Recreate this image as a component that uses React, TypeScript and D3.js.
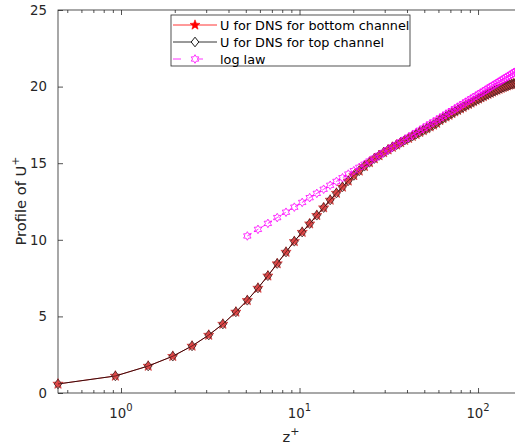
import React, { useRef, useEffect } from 'react';
import * as d3 from 'd3';

// wall-normal positions (z+) of the DNS grid
const zPlus = [
  0.4436, 0.93, 1.42, 1.95, 2.5, 3.1, 3.72, 4.4, 5.1, 5.85, 6.65, 7.5, 8.4, 9.35, 10.35,
  11.4, 12.5, 13.65, 14.85, 16.1, 17.4, 18.75, 20.15, 21.6, 23.1, 24.65, 26.25, 27.9,
  29.6, 31.35, 33.15, 35.0, 36.9, 38.85, 40.85, 42.9, 45.0, 47.15, 49.35, 51.6, 53.9,
  56.25, 58.65, 61.1, 63.6, 66.15, 68.75, 71.4, 74.1, 76.85, 79.65, 82.5, 85.4, 88.35,
  91.35, 94.4, 97.5, 100.65, 103.85, 107.1, 110.4, 113.75, 117.15, 120.6, 124.1, 127.65,
  131.25, 134.9, 138.6, 142.35, 146.15, 150.0, 153.9, 157.85, 161.85, 165.9, 170.0,
  174.15, 180.0,
];

// U+ for the bottom channel
const uBottom = [
  0.59, 1.11, 1.76, 2.4, 3.07, 3.78, 4.5, 5.29, 6.05, 6.85, 7.65, 8.45, 9.2, 9.9, 10.5,
  11.05, 11.6, 12.1, 12.6, 13.05, 13.45, 13.85, 14.2, 14.5, 14.8, 15.05, 15.3, 15.5,
  15.7, 15.88, 16.05, 16.2, 16.35, 16.5, 16.63, 16.76, 16.89, 17.02, 17.14, 17.26, 17.38,
  17.5, 17.62, 17.8, 17.92, 18.03, 18.14, 18.25, 18.36, 18.46, 18.56, 18.66, 18.76, 18.85,
  18.94, 19.03, 19.12, 19.2, 19.28, 19.36, 19.44, 19.51, 19.58, 19.65, 19.72, 19.78,
  19.84, 19.9, 19.96, 20.01, 20.06, 20.11, 20.15, 20.19, 20.23, 20.27, 20.3,
  20.33, 20.36,
];

// U+ for the top channel (same curve within line width)
const uTop = uBottom;

// log law, evaluated from z+ ~ 5 on
const zLog = zPlus.slice(8);
const uLog = [
  10.25, 10.68, 11.07, 11.45, 11.8, 12.13, 12.44, 12.75, 13.03, 13.3, 13.56, 13.81, 14.05,
  14.29, 14.51, 14.73, 14.93, 15.14, 15.33, 15.52, 15.7, 15.88, 16.05, 16.22, 16.39,
  16.55, 16.7, 16.85, 17.0, 17.15, 17.29, 17.43, 17.56, 17.69, 17.82, 17.95, 18.07, 18.2,
  18.32, 18.43, 18.55, 18.66, 18.77, 18.88, 18.99, 19.09, 19.2, 19.3, 19.4, 19.5, 19.59,
  19.69, 19.78, 19.88, 19.97, 20.06, 20.14, 20.23, 20.32, 20.4, 20.49, 20.57, 20.65,
  20.73, 20.81, 20.89, 20.97, 21.04, 21.12, 21.2, 21.3,
];

const yTicks = [0, 5, 10, 15, 20, 25];
const xMajor = [1, 10, 100];
const xMinor = [0.5, 0.6, 0.7, 0.8, 0.9, 2, 3, 4, 5, 6, 7, 8, 9, 20, 30, 40, 50, 60, 70, 80, 90];
const legendLabels = ['U for DNS for bottom channel', 'U for DNS for top channel', 'log law'];

const AX = '#262626';
const FONT = 'DejaVu Sans, sans-serif';

const starPath = (r: number) => {
  const pts: string[] = [];
  for (let i = 0; i < 10; i++) {
    const rr = i % 2 === 0 ? r : r * 0.42;
    const a = -Math.PI / 2 + (i * Math.PI) / 5;
    pts.push(`${rr * Math.cos(a)},${rr * Math.sin(a)}`);
  }
  return `M${pts.join('L')}Z`;
};

const hexPath = (r: number) => {
  const pts: string[] = [];
  for (let i = 0; i < 12; i++) {
    const rr = i % 2 === 0 ? r : r / Math.sqrt(3);
    const a = -Math.PI / 2 + (i * Math.PI) / 6;
    pts.push(`${rr * Math.cos(a)},${rr * Math.sin(a)}`);
  }
  return `M${pts.join('L')}Z`;
};

const diamondPath = (w: number, h: number) => `M0,${-h}L${w},0L0,${h}L${-w},0Z`;

const App = () => {
  const ref = useRef<SVGSVGElement>(null);

  useEffect(() => {
    const svg = d3.select(ref.current);
    svg.selectAll('*').remove();

    const left = 58;
    const right = 523.6; // box continues past the picture edge
    const top = 10;
    const bottom = 393;

    const x = d3.scaleLog().domain([zPlus[0], 180]).range([left, right]);
    const y = d3.scaleLinear().domain([0, 25]).range([bottom, top]);

    // box
    svg.append('rect')
      .attr('x', left).attr('y', top)
      .attr('width', right - left).attr('height', bottom - top)
      .attr('fill', 'none').attr('stroke', AX).attr('stroke-width', 0.8);

    // y axis, ticks inward
    const gy = svg.append('g').attr('transform', `translate(${left},0)`)
      .call(d3.axisLeft(y).tickValues(yTicks).tickSize(-5).tickPadding(11).tickFormat(d3.format('d')));
    gy.select('.domain').remove();
    gy.selectAll('line').attr('stroke', AX).attr('stroke-width', 0.8);
    gy.selectAll('text').attr('fill', AX).attr('font-family', FONT).attr('font-size', 13.3);

    // x axis bottom + top, major and minor ticks
    const tickLayers: [number[], number][] = [[xMajor, 5], [xMinor, 3]];
    tickLayers.forEach(([vals, len]) => {
      const gb = svg.append('g').attr('transform', `translate(0,${bottom})`)
        .call(d3.axisBottom(x).tickValues(vals).tickSize(-len).tickFormat(() => ''));
      gb.select('.domain').remove();
      gb.selectAll('line').attr('stroke', AX).attr('stroke-width', 0.8);
      const gt = svg.append('g').attr('transform', `translate(0,${top})`)
        .call(d3.axisTop(x).tickValues(vals).tickSize(-len).tickFormat(() => ''));
      gt.select('.domain').remove();
      gt.selectAll('line').attr('stroke', AX).attr('stroke-width', 0.8);
    });

    // 10^k labels
    xMajor.forEach((v) => {
      const t = svg.append('text')
        .attr('x', x(v)).attr('y', 418)
        .attr('text-anchor', 'middle')
        .attr('fill', AX).attr('font-family', FONT).attr('font-size', 13.3);
      t.append('tspan').text('10');
      t.append('tspan').attr('dy', -7).attr('font-size', 10).text(String(Math.round(Math.log10(v))));
    });

    // axis labels
    const xl = svg.append('text')
      .attr('x', 291).attr('y', 442).attr('text-anchor', 'middle')
      .attr('fill', AX).attr('font-family', FONT).attr('font-size', 14.67);
    xl.append('tspan').text('z');
    xl.append('tspan').attr('dy', -7).attr('font-size', 11).text('+');

    const yl = svg.append('text')
      .attr('transform', `translate(26,201) rotate(-90)`).attr('text-anchor', 'middle')
      .attr('fill', AX).attr('font-family', FONT).attr('font-size', 14.67);
    yl.append('tspan').text('Profile of U');
    yl.append('tspan').attr('dy', -7).attr('font-size', 11).text('+');

    const line = d3.line<[number, number]>().x((d) => x(d[0])).y((d) => y(d[1]));
    const bottomPts = zPlus.map((z, i) => [z, uBottom[i]] as [number, number]);
    const topPts = zPlus.map((z, i) => [z, uTop[i]] as [number, number]);
    const logPts = zLog.map((z, i) => [z, uLog[i]] as [number, number]);

    // bottom channel: red line, filled red stars
    svg.append('path').attr('d', line(bottomPts)).attr('fill', 'none')
      .attr('stroke', '#ff0000').attr('stroke-width', 0.8);
    svg.append('g').selectAll('path').data(bottomPts).join('path')
      .attr('transform', (d) => `translate(${x(d[0])},${y(d[1])})`)
      .attr('d', starPath(5.4))
      .attr('fill', '#e04848').attr('stroke', '#d03030').attr('stroke-width', 0.7);

    // top channel: black line, open diamonds
    svg.append('path').attr('d', line(topPts)).attr('fill', 'none')
      .attr('stroke', '#000').attr('stroke-width', 0.8);
    svg.append('g').selectAll('path').data(topPts).join('path')
      .attr('transform', (d) => `translate(${x(d[0])},${y(d[1])})`)
      .attr('d', diamondPath(3.8, 4.8))
      .attr('fill', 'rgba(220,70,70,0.35)').attr('stroke', '#3a2020').attr('stroke-width', 0.8);

    // log law: magenta dashed, open hexagrams
    svg.append('path').attr('d', line(logPts)).attr('fill', 'none')
      .attr('stroke', '#ff00ff').attr('stroke-width', 0.8).attr('stroke-dasharray', '5,3');
    svg.append('g').selectAll('path').data(logPts).join('path')
      .attr('transform', (d) => `translate(${x(d[0])},${y(d[1])})`)
      .attr('d', hexPath(4.3))
      .attr('fill', 'none').attr('stroke', '#ff00ff').attr('stroke-width', 0.8);

    // legend
    const lg = svg.append('g');
    lg.append('rect').attr('x', 171).attr('y', 15).attr('width', 239).attr('height', 51)
      .attr('fill', '#fff').attr('stroke', AX).attr('stroke-width', 0.8);
    const rows = [25, 42, 59];
    rows.forEach((ry, i) => {
      if (i === 0) {
        lg.append('line').attr('x1', 173).attr('x2', 217).attr('y1', ry).attr('y2', ry)
          .attr('stroke', '#ff0000').attr('stroke-width', 0.8);
        lg.append('path').attr('transform', `translate(195,${ry})`).attr('d', starPath(5.2))
          .attr('fill', '#ff0000').attr('stroke', '#ff0000').attr('stroke-width', 0.6);
      } else if (i === 1) {
        lg.append('line').attr('x1', 173).attr('x2', 217).attr('y1', ry).attr('y2', ry)
          .attr('stroke', '#000').attr('stroke-width', 0.8);
        lg.append('path').attr('transform', `translate(195,${ry})`).attr('d', diamondPath(3.8, 4.8))
          .attr('fill', '#fff').attr('stroke', '#000').attr('stroke-width', 0.9);
      } else {
        lg.append('line').attr('x1', 173).attr('x2', 217).attr('y1', ry).attr('y2', ry)
          .attr('stroke', '#ff00ff').attr('stroke-width', 0.8).attr('stroke-dasharray', '8,14');
        lg.append('path').attr('transform', `translate(195,${ry})`).attr('d', hexPath(4.3))
          .attr('fill', '#fff').attr('stroke', '#ff00ff').attr('stroke-width', 0.8);
      }
      lg.append('text').attr('x', 220).attr('y', ry).attr('dy', '0.36em')
        .attr('fill', '#000').attr('font-family', FONT).attr('font-size', 12.8)
        .text(legendLabels[i]);
    });
  }, []);

  return (
    <svg
      ref={ref}
      width={515}
      height={445}
      style={{ position: 'absolute', left: 0, top: 0, background: '#fff' }}
    />
  );
};

export default App;
